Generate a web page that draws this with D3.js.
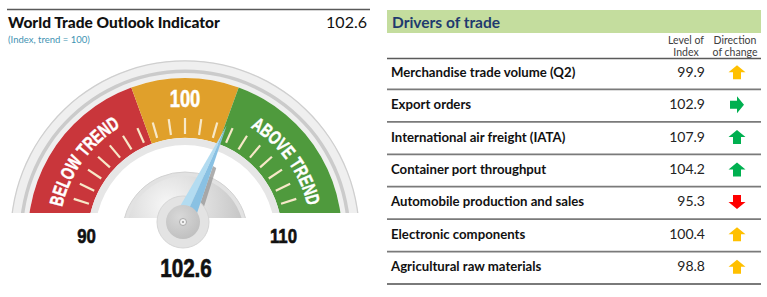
<!DOCTYPE html>
<html>
<head>
<meta charset="utf-8">
<script src="https://cdn.jsdelivr.net/npm/d3@7"></script>
<style>
  html, body { margin: 0; padding: 0; background: #fff; }
  svg { display: block; }
  .cond { font-family: "Liberation Sans", Arial, sans-serif; font-weight: bold; }
  .tbl { font-family: Lato, "Open Sans", sans-serif; }
</style>
</head>
<body>
<svg id="chart" width="767" height="297"></svg>
<script>
// ---------------- data ----------------
const indicatorTitle = "World Trade Outlook Indicator";
const indicatorSubtitle = "(Index, trend = 100)";
const indicatorValue = 102.6;
const gaugeDomain = [90, 110];
const bandStops = [90, 97.5, 102.5, 110];
const bandNames = ["BELOW TREND", "100", "ABOVE TREND"];
const gaugeTicks = [91, 92, 93, 94, 95, 96, 97, 98, 99, 100, 101, 102, 103, 104, 105, 106, 107, 108, 109];
const endLabels = ["90", "110"];

const tableTitle = "Drivers of trade";
const columnHeads = [["Level of", "Index"], ["Direction", "of change"]];
const drivers = [
  "Merchandise trade volume (Q2)",
  "Export orders",
  "International air freight (IATA)",
  "Container port throughput",
  "Automobile production and sales",
  "Electronic components",
  "Agricultural raw materials"
];
const levels = [99.9, 102.9, 107.9, 104.2, 95.3, 100.4, 98.8];
const directions = ["up", "right", "up", "up", "down", "up", "up"];
const signals = ["amber", "green", "green", "green", "red", "amber", "amber"];

// ---------------- styles ----------------
const bandColors = ["#c9363b", "#e0a02b", "#4f9a3d"];
const signalColors = { amber: "#ffc000", green: "#00b050", red: "#ff0000" };
const dirRotation = { up: 0, right: 90, down: 180 };
const condX = 0.72; // horizontal squeeze for the condensed dial lettering

const svg = d3.select("#chart");
const defs = svg.append("defs");

// ---------------- left: header ----------------
svg.append("line").attr("x1", 7).attr("x2", 370).attr("y1", 9.5).attr("y2", 9.5)
  .attr("stroke", "#5a5a5a").attr("stroke-width", 1.5);
svg.append("text").attr("class", "tbl").attr("x", 8).attr("y", 28)
  .attr("font-size", 15.5).attr("font-weight", "900").attr("fill", "#111").text(indicatorTitle);
svg.append("text").attr("class", "tbl").attr("x", 367).attr("y", 28).attr("text-anchor", "end")
  .attr("font-size", 16).attr("fill", "#111").text(indicatorValue.toFixed(1));
svg.append("text").attr("class", "tbl").attr("x", 8).attr("y", 43)
  .attr("font-size", 9.5).attr("fill", "#3f93b3").text(indicatorSubtitle);

// ---------------- gauge ----------------
const cx = 185, cy = 235;           // arc centre
const baseY = 213;                  // flat bottom of dial
const pivot = [183, 222];           // needle pivot
const deg = Math.PI / 180;
const angle = d3.scaleLinear().domain(gaugeDomain).range([-80 * deg, 80 * deg]);
const visibleEdge = 88 * deg;

const g = svg.append("g").attr("transform", `translate(${cx},${cy})`);
defs.append("clipPath").attr("id", "dialClipLocal")
  .append("rect").attr("x", -200).attr("y", -200).attr("width", 400).attr("height", baseY - cy + 200);
const dial = g.append("g").attr("clip-path", "url(#dialClipLocal)");

const arc = d3.arc();
// outer rim
dial.append("path").attr("d", arc({ innerRadius: 157, outerRadius: 174.5, startAngle: -100 * deg, endAngle: 100 * deg }))
  .attr("fill", "#efefef");
dial.append("path").attr("d", arc({ innerRadius: 162, outerRadius: 165.5, startAngle: -100 * deg, endAngle: 100 * deg }))
  .attr("fill", "#cbcbcb");
dial.append("path").attr("d", arc({ innerRadius: 173.5, outerRadius: 174.8, startAngle: -100 * deg, endAngle: 100 * deg }))
  .attr("fill", "#cfcfcf");

// coloured bands
bandColors.forEach((c, i) => {
  const a0 = i === 0 ? -100 * deg : angle(bandStops[i]);
  const a1 = i === bandColors.length - 1 ? 100 * deg : angle(bandStops[i + 1]);
  dial.append("path").attr("d", arc({ innerRadius: 97, outerRadius: 157, startAngle: a0, endAngle: a1 }))
    .attr("fill", c);
});
// inner light ring
dial.append("path").attr("d", arc({ innerRadius: 90, outerRadius: 97, startAngle: -100 * deg, endAngle: 100 * deg }))
  .attr("fill", "#e6e6e6");

// ticks
dial.selectAll("line.tick").data(gaugeTicks).join("line")
  .attr("class", "tick")
  .attr("x1", d => 101 * Math.sin(angle(d))).attr("y1", d => -101 * Math.cos(angle(d)))
  .attr("x2", d => 117 * Math.sin(angle(d))).attr("y2", d => -117 * Math.cos(angle(d)))
  .attr("stroke", "#f7e8c8").attr("stroke-width", 2.2);

// band labels
const labelR = 126;
function arcText(str, midAngle, r, size) {
  const chars = str.split("");
  const nodes = chars.map(ch => g.append("text").attr("class", "cond").attr("font-size", size)
    .attr("fill", "#fff").attr("stroke", "#fff").attr("stroke-width", 0.5)
    .attr("text-anchor", "middle").text(ch === " " ? "\u00a0" : ch));
  const widths = nodes.map((n, k) => (chars[k] === " " ? size * 0.3 : n.node().getComputedTextLength()) * condX);
  const total = d3.sum(widths);
  let a = midAngle - (total / 2) / r;
  nodes.forEach((n, k) => {
    const ac = a + (widths[k] / 2) / r;
    n.attr("transform", `translate(${r * Math.sin(ac)},${-r * Math.cos(ac)}) rotate(${ac / deg}) scale(${condX},1)`);
    a += widths[k] / r;
  });
}
bandNames.forEach((name, i) => {
  const a0 = i === 0 ? -visibleEdge : angle(bandStops[i]);
  const a1 = i === bandNames.length - 1 ? visibleEdge : angle(bandStops[i + 1]);
  const mid = (a0 + a1) / 2;
  if (i === 1) {
    g.append("text").attr("class", "cond")
      .attr("transform", `translate(${labelR * Math.sin(mid)},${-(labelR + 2) * Math.cos(mid)}) scale(0.8,1)`)
      .attr("text-anchor", "middle").attr("font-size", 23).attr("fill", "#fff")
      .attr("stroke", "#fff").attr("stroke-width", 0.5).text(name);
  } else {
    arcText(name, mid, labelR, 19);
  }
});

// central semi-disc
const discGrad = defs.append("radialGradient").attr("id", "discGrad").attr("cx", "35%").attr("cy", "25%").attr("r", "75%");
discGrad.append("stop").attr("offset", "0%").attr("stop-color", "#f7f7f7");
discGrad.append("stop").attr("offset", "55%").attr("stop-color", "#d8d8d8");
discGrad.append("stop").attr("offset", "100%").attr("stop-color", "#bdbdbd");
defs.append("clipPath").attr("id", "discClip")
  .append("rect").attr("x", -100).attr("y", -100).attr("width", 200).attr("height", 218 - cy + 100);
const discG = g.append("g").attr("clip-path", "url(#discClip)");
discG.append("circle").attr("r", 63).attr("fill", "#e2e2e2").attr("stroke", "#d2d2d2");
discG.append("circle").attr("r", 59).attr("fill", "url(#discGrad)");

// needle
const va = angle(indicatorValue);
const tip = [cx + 117 * Math.sin(va), cy - 117 * Math.cos(va)];
const dx = tip[0] - pivot[0], dy = tip[1] - pivot[1];
const len = Math.hypot(dx, dy);
const ux = dx / len, uy = dy / len;
const nx = -uy, ny = ux; // right-hand normal
const hw = 10.5;
const L = [pivot[0] - nx * hw, pivot[1] - ny * hw];
const R = [pivot[0] + nx * hw, pivot[1] + ny * hw];
// shadow
defs.append("clipPath").attr("id", "discClipAbs").append("path")
  .attr("d", `M${cx - 59},218 A59,59 0 0 1 ${cx + 59},218 Z`);
const shadowG = svg.append("g").attr("clip-path", "url(#discClipAbs)");
shadowG.append("polygon")
  .attr("points", [R, [R[0] + nx * 5, R[1] + ny * 5], [tip[0] + nx * 3, tip[1] + ny * 3], tip].map(p => p.join(",")).join(" "))
  .attr("fill", "#9a9a9a").attr("opacity", 0.8);

// hub outer
svg.append("circle").attr("cx", pivot[0]).attr("cy", pivot[1]).attr("r", 26).attr("fill", "#e3e3e3").attr("stroke", "#d6d6d6");
svg.append("polygon").attr("points", [L, pivot, tip].map(p => p.join(",")).join(" ")).attr("fill", "#b3dcf1");
svg.append("polygon").attr("points", [pivot, R, tip].map(p => p.join(",")).join(" ")).attr("fill", "#89c1e3");
const hubGrad = defs.append("radialGradient").attr("id", "hubGrad").attr("cx", "40%").attr("cy", "35%").attr("r", "70%");
hubGrad.append("stop").attr("offset", "0%").attr("stop-color", "#d8d8d8");
hubGrad.append("stop").attr("offset", "100%").attr("stop-color", "#bfbfbf");
svg.append("circle").attr("cx", pivot[0]).attr("cy", pivot[1]).attr("r", 17).attr("fill", "url(#hubGrad)");
svg.append("circle").attr("cx", pivot[0]).attr("cy", pivot[1]).attr("r", 3.5).attr("fill", "#f2f2f2").attr("stroke", "#a9a9a9").attr("stroke-width", 1);
svg.append("circle").attr("cx", pivot[0]).attr("cy", pivot[1]).attr("r", 1).attr("fill", "#999");

// end labels and value
[gaugeDomain[0], gaugeDomain[1]].forEach((v, i) => {
  svg.append("text").attr("class", "cond")
    .attr("transform", `translate(${cx + 100 * Math.sin(angle(v))},243) scale(0.8,1)`)
    .attr("text-anchor", "middle").attr("font-size", 21).attr("fill", "#111")
    .attr("stroke", "#111").attr("stroke-width", 0.6).text(endLabels[i]);
});
svg.append("text").attr("class", "cond")
  .attr("transform", `translate(186,277) scale(0.78,1)`).attr("text-anchor", "middle")
  .attr("font-size", 26.5).attr("fill", "#111").attr("stroke", "#111").attr("stroke-width", 0.7)
  .text(indicatorValue.toFixed(1));

// ---------------- right: table ----------------
const tx0 = 387, tx1 = 761;
svg.append("rect").attr("x", tx0).attr("y", 10).attr("width", tx1 - tx0).attr("height", 23).attr("fill", "#c4dd9e");
svg.append("text").attr("class", "tbl").attr("x", 392).attr("y", 27.5).attr("font-size", 15.5)
  .attr("font-weight", "bold").attr("fill", "#1f3a6e").text(tableTitle);
const colX = [686, 735];
columnHeads.forEach((lines, i) => {
  lines.forEach((t, j) => {
    svg.append("text").attr("class", "tbl").attr("x", colX[i]).attr("y", 44 + j * 12)
      .attr("text-anchor", "middle").attr("font-size", 10.5).attr("fill", "#404040").text(t);
  });
});
svg.append("line").attr("x1", tx0).attr("x2", tx1).attr("y1", 58.5).attr("y2", 58.5)
  .attr("stroke", "#5a5a5a").attr("stroke-width", 1.5);

const y = d3.scaleBand().domain(drivers).range([57, 284]);
const rows = svg.selectAll("g.row").data(drivers).join("g").attr("class", "row")
  .attr("transform", d => `translate(0,${y(d)})`);
rows.append("line").attr("x1", tx0).attr("x2", tx1)
  .attr("y1", y.bandwidth()).attr("y2", y.bandwidth())
  .attr("stroke", "#7a7a7a").attr("stroke-width", 1.8);
rows.append("text").attr("class", "tbl").attr("x", 391).attr("y", y.bandwidth() / 2 + 3.5)
  .attr("font-size", 13.2).attr("font-weight", "bold").attr("fill", "#111").text(d => d);
rows.append("text").attr("class", "tbl").attr("x", 705).attr("y", y.bandwidth() / 2 + 3.5)
  .attr("text-anchor", "end").attr("font-size", 14).attr("fill", "#222")
  .text((d, i) => levels[i].toFixed(1));
const arrowPath = "M0,-7 L8.5,0 L4,0 L4,7 L-4,7 L-4,0 L-8.5,0 Z";
rows.append("path").attr("d", arrowPath)
  .attr("transform", (d, i) => `translate(737,${y.bandwidth() / 2 - 1}) rotate(${dirRotation[directions[i]]})`)
  .attr("fill", (d, i) => signalColors[signals[i]]);
</script>
</body>
</html>
